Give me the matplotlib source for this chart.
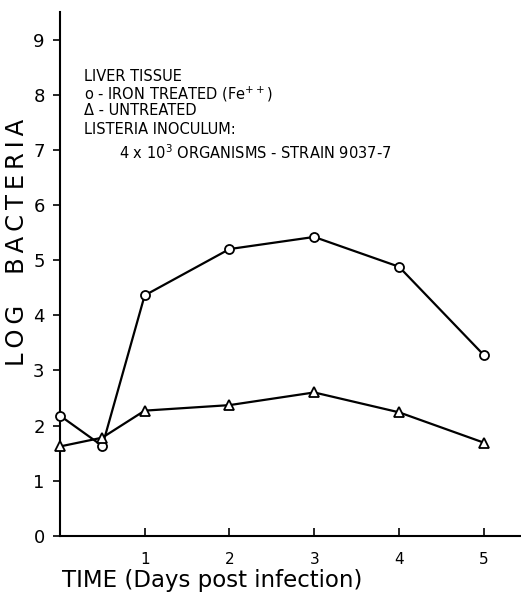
import numpy as np
import matplotlib
matplotlib.use('Agg')
import matplotlib.pyplot as plt

# days post infection
days = [0, 0.5, 1, 2, 3, 4, 5]
# log bacteria, liver tissue
iron_treated = [2.18, 1.63, 4.36, 5.2, 5.42, 4.88, 3.28]
untreated = [1.62, 1.78, 2.27, 2.37, 2.6, 2.24, 1.69]
yticks = [0, 1, 2, 3, 4, 5, 6, 7, 8, 9]
xticks = [1, 2, 3, 4, 5]

plt.rcParams['font.family'] = ['DejaVu Sans']

fig = plt.figure(figsize=(5.21, 5.98), dpi=100)
ax = fig.add_axes([0.115, 0.104, 0.885, 0.876])

ax.plot(days, iron_treated, color='black', lw=1.6, marker='o', ms=6.5,
        mfc='white', mec='black', mew=1.3, clip_on=False, zorder=3)
ax.plot(days, untreated, color='black', lw=1.6, marker='^', ms=6.5,
        mfc='white', mec='black', mew=1.3, clip_on=False, zorder=3)

ax.set_xlim(0, 5.44)
ax.set_ylim(0, 9.5)
ax.set_yticks(yticks)
ax.set_xticks(xticks)
ax.set_xticklabels([str(t) for t in xticks], fontsize=11)
ax.set_yticklabels([str(t) for t in yticks], fontsize=13)
ax.tick_params(axis='y', direction='out', length=5, width=1.2, pad=6)
ax.tick_params(axis='x', direction='in', length=6, width=1.2, pad=12)

for s in ['top', 'right']:
    ax.spines[s].set_visible(False)
for s in ['left', 'bottom']:
    ax.spines[s].set_linewidth(1.5)

def spaced(s):
    # loose lettering like the stencil text of the original
    return '\u2009'.join(s)

ax.set_ylabel(spaced('LOG') + '    ' + spaced('BACTERIA'), fontsize=17.5)
ax.yaxis.set_label_coords(-0.066, 0.56)
fig.text(0.407, 0.03, 'TIME (Days post infection)',
         fontsize=16.5, ha='center', va='center')

# legend block as text
tx = 0.053
fs = 10.5
ax.text(tx, 0.876, 'LIVER TISSUE', transform=ax.transAxes, fontsize=fs, va='center')
ax.text(tx, 0.842, 'o - IRON TREATED (Fe$^{++}$)', transform=ax.transAxes,
        fontsize=fs, va='center')
ax.text(tx, 0.811, '\u0394 - UNTREATED', transform=ax.transAxes, fontsize=fs, va='center')
ax.text(tx, 0.775, 'LISTERIA INOCULUM:', transform=ax.transAxes, fontsize=fs, va='center')
ax.text(tx + 0.075, 0.731, '4 x 10$^3$ ORGANISMS - STRAIN 9037-7',
        transform=ax.transAxes, fontsize=fs, va='center')

fig.savefig('out.png', dpi=100)
